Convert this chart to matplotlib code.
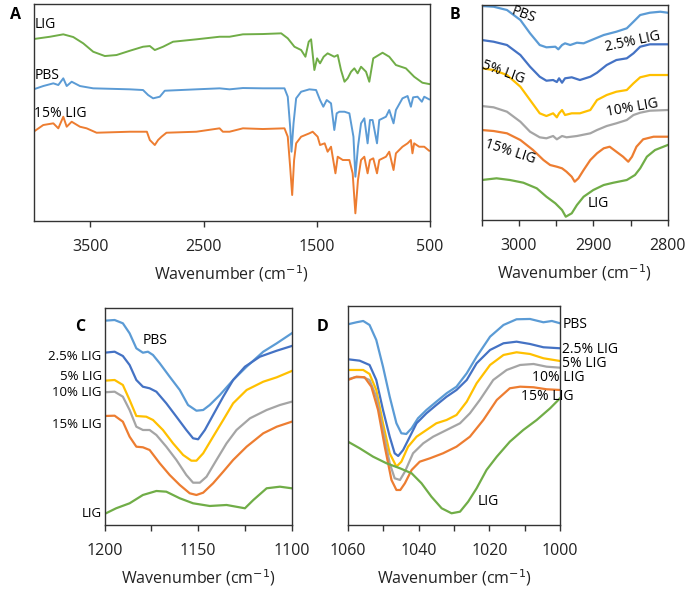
import numpy as np
import matplotlib
matplotlib.use('Agg')
from matplotlib import pyplot as plt
from matplotlib.ticker import MultipleLocator

plt.rcParams['font.family'] = ['Open Sans', 'DejaVu Sans']

c_lig = '#70AD47'
c_pbs = '#5B9BD5'
c_25 = '#4472C4'
c_5 = '#FFC000'
c_10 = '#A5A5A5'
c_15 = '#ED7D31'

# Panel A: full spectra (arbitrary units)
a_lig_x = [4000, 3855, 3738, 3650, 3562, 3474, 3371, 3268, 3150, 3034, 2974, 2930, 2857, 2769, 2563, 2358,
           2270, 2152, 1976, 1814, 1756, 1697, 1638, 1600, 1571, 1550, 1521, 1497, 1471, 1439, 1404, 1345,
           1315, 1286, 1255, 1227, 1197, 1168, 1139, 1109, 1065, 1036, 1001, 919, 860, 801, 713, 640, 567, 508]
a_lig_y = [182, 184.3, 186.7, 184, 177.7, 169.3, 165, 166, 170.3, 174.3, 175, 171, 174.3, 179.3, 181.7, 184.3,
           184.3, 186.7, 187, 187.7, 182.7, 174.3, 171, 164.3, 179.3, 181.7, 151, 162.7, 157.7, 164.3, 167.7, 164.3,
           166, 151, 139.3, 142.7, 149.3, 152.7, 147.7, 154.3, 149.3, 139.3, 162.7, 168.3, 164.3, 156, 152.7, 144.3,
           138.3, 137]

a_pbs_x = [4000, 3915, 3826, 3782, 3738, 3708, 3664, 3591, 3474, 3150, 3034, 2989, 2945, 2886, 2842, 2563, 2358,
           2270, 2152, 1976, 1785, 1756, 1735, 1723, 1705, 1682, 1638, 1565, 1506, 1471, 1442, 1412, 1374, 1345,
           1324, 1300, 1255, 1212, 1176, 1159, 1136, 1109, 1080, 1051, 1030, 1007, 968, 948, 889, 860, 822, 801,
           743, 698, 669, 649, 610, 572, 551, 508]
a_pbs_y = [131.7, 135, 137.7, 136, 142.7, 135, 139.3, 135, 132.7, 131.7, 131, 126, 122.7, 124.3, 130.3, 131.7, 132.7,
           131.7, 133, 132.7, 132.7, 124.3, 94.3, 69.3, 97.7, 122.7, 129.3, 131.7, 131, 121, 114.3, 121, 117.7, 91,
           107.7, 109.3, 109.3, 107.7, 84.3, 44.3, 74.3, 97.7, 102.7, 77.7, 101, 101, 77.7, 101, 104.3, 111, 97.7,
           111, 122.7, 125, 114.3, 123.7, 124.3, 119.3, 124.3, 121.7]

a_15_x = [4000, 3915, 3826, 3782, 3738, 3708, 3664, 3591, 3532, 3444, 3150, 3000, 2974, 2930, 2901, 2871, 2827,
          2563, 2358, 2329, 2270, 2152, 1976, 1785, 1756, 1735, 1717, 1700, 1682, 1638, 1565, 1536, 1492, 1471,
          1430, 1404, 1374, 1335, 1315, 1270, 1212, 1183, 1159, 1136, 1109, 1080, 1051, 1030, 1001, 968, 948,
          889, 860, 822, 801, 743, 698, 669, 655, 640, 596, 551, 508]
a_15_y = [89.3, 96, 97.7, 92.7, 104.3, 94.3, 99.3, 94.3, 92.7, 88.3, 89.3, 89.3, 81, 76, 81, 84.3, 88.3,
          89.3, 92.7, 89.3, 89.3, 92.7, 92, 92.7, 84.3, 54.3, 26, 61, 77.7, 84.3, 87.7, 89.3, 84.3, 76,
          77.7, 69.3, 74.3, 47.7, 64.3, 61, 61, 47.7, 7.7, 41, 61, 64.3, 47.7, 61, 62.7, 47.7, 61,
          64.3, 69.3, 51, 67.7, 74.3, 77.7, 81, 67.7, 77.7, 74.3, 74.3, 70.3]

# Panel B: 3050-2800 cm-1
b_pbs_x = [3050, 3034, 3016, 2998, 2985, 2972, 2963, 2951, 2947, 2942, 2938, 2931, 2922, 2913, 2900, 2886,
           2869, 2855, 2846, 2837, 2824, 2810, 2800]
b_pbs_y = [214, 213.3, 210, 200, 186.7, 175, 172.7, 173.3, 170.7, 175, 176.7, 175, 177.3, 176.7, 180.7, 185,
           188.3, 191.7, 198.3, 205, 207.3, 208.3, 207.3]
b_25_x = [3050, 3034, 3016, 2998, 2985, 2972, 2963, 2954, 2949, 2946, 2942, 2938, 2929, 2918, 2904, 2895,
          2882, 2869, 2855, 2846, 2837, 2824, 2800]
b_25_y = [180, 178.3, 175, 165, 153.3, 143.3, 139.3, 140, 138, 141.7, 137.3, 141.7, 142.7, 140, 143.3, 147.3,
          155, 160, 161.7, 166.7, 173.3, 175.7, 175.7]
b_5_x = b_25_x
b_5_y = [151.7, 150, 145, 133.3, 120, 106.7, 104, 106.7, 102.7, 106.7, 110, 105, 106.7, 106.7, 110, 120,
         125, 128.3, 130, 136.7, 142.7, 145, 145]
b_10_x = [3050, 3034, 3016, 2998, 2985, 2972, 2963, 2954, 2949, 2942, 2936, 2922, 2904, 2895, 2882, 2869,
          2855, 2846, 2837, 2824, 2800]
b_10_y = [114, 112.7, 108.3, 98.3, 88.3, 82.7, 81.7, 84, 80.7, 84, 82.7, 84, 86.7, 90, 94, 96.7,
          100, 105, 107.3, 109.3, 110]
b_15_x = [3050, 3034, 3016, 2998, 2981, 2967, 2958, 2949, 2942, 2936, 2929, 2925, 2920, 2913, 2904, 2895,
          2886, 2878, 2869, 2860, 2853, 2848, 2842, 2833, 2819, 2800]
b_15_y = [90, 89, 86.7, 80, 70, 60, 55, 53.3, 51.7, 48.3, 43.3, 38.3, 41.7, 50, 60, 66.7,
          71.7, 73.3, 68.3, 63.3, 58.3, 63.3, 73.3, 80.7, 83.3, 83.3]
b_lig_x = [3050, 3030, 3012, 2994, 2976, 2963, 2951, 2942, 2937, 2929, 2922, 2913, 2900, 2886, 2873, 2855,
           2844, 2837, 2828, 2817, 2800]
b_lig_y = [40, 41.7, 40, 37.3, 31.7, 23.3, 16.7, 10, 3.3, 6.7, 15, 23.3, 30, 35, 37.3, 40,
           45, 51.7, 63.3, 70, 75]

# Panel C: 1200-1100 cm-1
c_pbs_x = [1200, 1194.6, 1190.2, 1186.6, 1183, 1179.5, 1176.8, 1174.1, 1170.5, 1165.2, 1159.8, 1155.4, 1150.9,
           1147.3, 1143.8, 1138.4, 1131.3, 1124.1, 1115.2, 1108, 1100]
c_pbs_y = [204.3, 205, 201.7, 191.7, 176.7, 172.3, 173.3, 170, 161.7, 148.3, 135, 120, 114.3,
           115, 120, 130, 145, 158.3, 173.3, 181.7, 191.7]
c_25_x = [1200, 1194.6, 1190.2, 1186.6, 1183, 1179.5, 1175.9, 1172.3, 1167, 1161.6, 1156.3, 1152.7, 1150,
          1146.4, 1142, 1136.6, 1131.3, 1125, 1117, 1108, 1100]
c_25_y = [172.3, 173.3, 169, 160, 145, 138.3, 136.7, 133.3, 121.7, 108.3, 95, 86.7, 85.7,
          95, 110, 128.3, 145, 158.3, 168.3, 174.3, 179]
c_5_x = [1200, 1194.6, 1190.2, 1186.6, 1183, 1177.7, 1174.1, 1168.8, 1163.4, 1158, 1153.6, 1150.9, 1147.3,
         1142, 1136.6, 1131.3, 1124.1, 1115.2, 1108, 1100]
c_5_y = [144.3, 145, 140, 125, 109, 108.3, 105, 95, 81.7, 70, 64.3, 64.3, 71.7,
         88.3, 105, 121.7, 135, 143.3, 147.7, 154]
c_10_x = [1200, 1194.6, 1190.2, 1186.6, 1183, 1179.5, 1175.9, 1172.3, 1167, 1161.6, 1156.3, 1152.7, 1149.1,
          1145.5, 1140.2, 1134.8, 1129.5, 1122.3, 1113.4, 1106.3, 1100]
c_10_y = [132.7, 133.3, 128.3, 115, 98.3, 95, 95, 90, 78.3, 65, 50, 42.3, 42.3,
          48.3, 65, 81.7, 95, 106.7, 115, 120, 123.3]
c_15_x = [1200, 1194.6, 1190.2, 1186.6, 1183, 1179.5, 1175.9, 1170.5, 1165.2, 1159.8, 1154.5, 1150.9, 1147.3,
          1142, 1136.6, 1131.3, 1124.1, 1115.2, 1108, 1100]
c_15_y = [109, 109.3, 103.3, 88.3, 78.3, 77.7, 75, 61.7, 50, 40, 31.7, 30, 32.3,
          41.7, 53.3, 65, 78.3, 91.7, 98.3, 103.3]
c_lig_x = [1200, 1193.8, 1186.6, 1179.5, 1172.3, 1167, 1159.8, 1152.7, 1143.8, 1134.8, 1125, 1120.5, 1113.4,
           1106.3, 1100]
c_lig_y = [11, 16.7, 21.7, 30, 34, 33.3, 26.7, 21.7, 19, 20, 16.7, 25, 36.7, 38.3, 36.7]

# Panel D: 1060-1000 cm-1
d_pbs_x = [1060, 1057.6, 1055.7, 1053.9, 1052, 1050.1, 1048.2, 1046.3, 1044.9, 1043.5, 1042, 1040.2, 1037.8,
           1035, 1032.1, 1029.3, 1026.4, 1023.6, 1019.8, 1016, 1012.3, 1008.5, 1004.7, 1002.3, 1000]
d_pbs_y = [200.7, 202.7, 204, 200, 185, 158.3, 128.3, 101.7, 91.7, 91, 96.7, 106.7, 115,
           123.3, 131.7, 138.3, 151.7, 168.3, 188.3, 200, 205.7, 206, 202.7, 204, 201.7]
d_25_x = [1060, 1056.7, 1053.9, 1052, 1050.1, 1048.2, 1046.8, 1045.8, 1044.4, 1042.5, 1040.6, 1037.8, 1035,
          1032.1, 1029.3, 1026.4, 1023.6, 1019.8, 1016, 1012.3, 1008.5, 1004.7, 1000]
d_25_y = [165.7, 164.3, 160, 145, 115, 88.3, 71.7, 69, 75, 88.3, 101.7, 111.7, 120,
          128.3, 135, 145, 161.7, 175, 181.7, 183.3, 181, 177.7, 176.7]
d_5_x = [1060, 1055.7, 1053.9, 1052, 1050.1, 1048.2, 1046.3, 1044.9, 1043, 1040.6, 1037.8, 1035, 1032.1,
         1029.3, 1026.4, 1023.6, 1019.8, 1016, 1012.3, 1008.5, 1004.7, 1000]
d_5_y = [155, 155, 151, 135, 101.7, 71.7, 58.3, 63.3, 78.3, 88.3, 95, 101.7, 105,
         110, 123.3, 141.7, 160, 170, 172.7, 171, 166.7, 164]
d_10_x = [1060, 1058.1, 1055.7, 1053.9, 1052, 1050.1, 1048.2, 1046.8, 1045.3, 1043.9, 1041.6, 1038.7, 1035.9,
          1032.1, 1028.3, 1025.5, 1022.7, 1018.9, 1015.1, 1011.3, 1007.5, 1003.8, 1000]
d_10_y = [145.7, 147.7, 147.7, 145, 128.3, 95, 61.7, 46.7, 45, 53.3, 71.7, 81.7, 88.3,
          95, 101.7, 111.7, 125, 145, 155, 160, 161, 158.3, 157.3]
d_15_x = [1060, 1057.6, 1055.3, 1053.4, 1051.5, 1049.6, 1047.7, 1046.3, 1045.2, 1043.9, 1042, 1039.7, 1036.8,
          1033.1, 1029.3, 1025.5, 1021.7, 1017.9, 1014.2, 1011.3, 1007.5, 1003.8, 1000]
d_15_y = [145, 148.3, 147.7, 138.3, 115, 78.3, 45, 35, 35, 41.7, 55, 63.3, 66.7,
          71.7, 78.3, 88.3, 105, 125, 136.7, 138.3, 137.7, 135.7, 135]
d_lig_x = [1060, 1056.7, 1052.9, 1049.1, 1045.3, 1042, 1039.2, 1036.4, 1033.5, 1030.7, 1028.3, 1026, 1023.6,
           1020.8, 1017.9, 1014.2, 1010.4, 1006.6, 1002.8, 1000]
d_lig_y = [83.3, 76.7, 68.3, 61.7, 56.7, 51.7, 41.7, 28.3, 16.7, 11.7, 13.3, 23.3, 36.7,
           55, 68.3, 83.3, 95, 105, 116.7, 126.7]

fig = plt.figure(figsize=(6.89, 5.90), dpi=100)
axA = fig.add_axes([0.0488, 0.6254, 0.5753, 0.3686])
axB = fig.add_axes([0.6991, 0.6271, 0.2700, 0.3644])
axC = fig.add_axes([0.1517, 0.1102, 0.2717, 0.3686])
axD = fig.add_axes([0.5051, 0.1102, 0.3077, 0.3712])

lw = 1.6
tick_fs = 11.5
lab_fs = 11.5
txt_fs = 10

axA.plot(a_lig_x, a_lig_y, color=c_lig, lw=1.4)
axA.plot(a_pbs_x, a_pbs_y, color=c_pbs, lw=1.4)
axA.plot(a_15_x, a_15_y, color=c_15, lw=1.4)
axA.set_xlim(4000, 500)
axA.set_ylim(0, 217.5)
axA.set_xticks([3500, 2500, 1500, 500])
axA.text(3995, 197, 'LIG', fontsize=txt_fs, va='center', ha='left')
axA.text(3995, 146, 'PBS', fontsize=txt_fs, va='center', ha='left')
axA.text(3995, 108, '15% LIG', fontsize=txt_fs, va='center', ha='left')

for x, y, c in [(b_pbs_x, b_pbs_y, c_pbs), (b_25_x, b_25_y, c_25), (b_5_x, b_5_y, c_5),
                (b_10_x, b_10_y, c_10), (b_15_x, b_15_y, c_15), (b_lig_x, b_lig_y, c_lig)]:
    axB.plot(x, y, color=c, lw=lw)
axB.set_xlim(3050, 2800)
axB.set_ylim(0, 215)
axB.set_xticks([3000, 2900, 2800])
axB.xaxis.set_minor_locator(MultipleLocator(50))
axB.text(2994, 205, 'PBS', fontsize=txt_fs, rotation=-20, ha='center', va='center')
axB.text(2847, 178, '2.5% LIG', fontsize=txt_fs, rotation=12, ha='center', va='center')
axB.text(3021, 148, '5% LIG', fontsize=txt_fs, rotation=-20, ha='center', va='center')
axB.text(2847, 112, '10% LIG', fontsize=txt_fs, rotation=10, ha='center', va='center')
axB.text(3012, 68, '15% LIG', fontsize=txt_fs, rotation=-18, ha='center', va='center')
axB.text(2894, 17, 'LIG', fontsize=txt_fs, ha='center', va='center')

for x, y, c in [(c_pbs_x, c_pbs_y, c_pbs), (c_25_x, c_25_y, c_25), (c_5_x, c_5_y, c_5),
                (c_10_x, c_10_y, c_10), (c_15_x, c_15_y, c_15), (c_lig_x, c_lig_y, c_lig)]:
    axC.plot(x, y, color=c, lw=lw)
axC.set_xlim(1200, 1100)
axC.set_ylim(0, 217.5)
axC.set_xticks([1200, 1150, 1100])
axC.xaxis.set_minor_locator(MultipleLocator(25))
axC.text(1173, 185, 'PBS', fontsize=txt_fs, ha='center', va='center')
for y, s in [(168.3, '2.5% LIG'), (148.5, '5% LIG'), (132.5, '10% LIG'), (100, '15% LIG'), (11.7, 'LIG')]:
    axC.text(-0.015, y, s, fontsize=9.5, ha='right', va='center',
             transform=axC.get_yaxis_transform())

for x, y, c in [(d_pbs_x, d_pbs_y, c_pbs), (d_25_x, d_25_y, c_25), (d_5_x, d_5_y, c_5),
                (d_10_x, d_10_y, c_10), (d_15_x, d_15_y, c_15), (d_lig_x, d_lig_y, c_lig)]:
    axD.plot(x, y, color=c, lw=lw)
axD.set_xlim(1060, 1000)
axD.set_ylim(0, 219)
axD.set_xticks([1060, 1040, 1020, 1000])
axD.xaxis.set_minor_locator(MultipleLocator(10))
for y, s in [(200, 'PBS'), (175, '2.5% LIG'), (161, '5% LIG')]:
    axD.text(1.01, y, s, fontsize=txt_fs, ha='left', va='center', transform=axD.get_yaxis_transform())
axD.text(1008, 147, '10% LIG', fontsize=txt_fs, ha='left', va='center')
axD.text(1011.1, 128.3, '15% LIG', fontsize=txt_fs, ha='left', va='center')
axD.text(1023.2, 23, 'LIG', fontsize=txt_fs, ha='left', va='center')

for ax in [axA, axB, axC, axD]:
    ax.set_yticks([])
    for sp in ax.spines.values():
        sp.set_color('#333333')
        sp.set_linewidth(1.0)
    ax.tick_params(axis='x', which='both', direction='out', length=4, width=1, colors='#333333',
                   labelsize=tick_fs, labelcolor='#222222', pad=9)
    ax.set_xlabel('Wavenumber (cm$^{-1}$)', fontsize=lab_fs, color='#222222', labelpad=6)

for s, x, y in [('A', 15, 15), ('B', 455, 15), ('C', 80, 327), ('D', 322, 327)]:
    fig.text(x / 689, 1 - y / 590, s, fontsize=11.5, fontweight='bold', ha='center', va='center')

plt.savefig('out.png', dpi=100)
